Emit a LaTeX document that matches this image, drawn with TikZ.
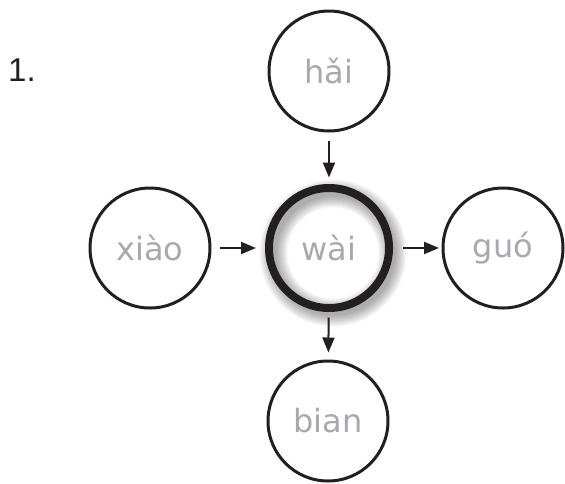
\documentclass[tikz,border=0pt]{standalone}
\usepackage{fontspec}
\setmainfont{DejaVu Sans}
\newfontfamily\numfont{Liberation Sans}
\usetikzlibrary{arrows.meta}
\definecolor{labelgray}{RGB}{167,169,172}
\definecolor{inkblack}{RGB}{35,31,32}
\begin{document}
\begin{tikzpicture}[x=1pt,y=-1pt,
  word/.style={circle, draw=inkblack, line width=3pt, minimum size=120pt, inner sep=0pt, outer sep=0pt, text=labelgray, font=\fontsize{32}{32}\selectfont},
  hub/.style={word, line width=8pt},
  link/.style={draw=inkblack, line width=2pt, -{Triangle[length=15pt,width=12pt]}}]
\useasboundingbox (0,0) rectangle (565,483);
% soft shadow of the central ring
\foreach \w in {1,...,12}{
  \pgfmathsetmacro{\lw}{4+2*\w}
  \draw[black, opacity=0.032, line width=\lw pt] (333,253) circle (59.5pt);
}
\node[word] (hai) at (329,71) {hǎi};
\node[word] (xiao) at (150,248) {xiào};
\node[hub] (wai) at (329,248) {wài};
\node[word] (guo) at (503,248) {guó};
\node[word] (bian) at (328,421) {bian};
\node[font=\numfont\fontsize{33}{33}\selectfont, text=inkblack, anchor=base west, inner sep=0pt] (num) at (8,81) {1.};
\draw[link, shorten <=9.5pt, shorten >=10.5pt] (hai) -- (wai);
\draw[link, shorten <=10pt, shorten >=13pt] (xiao) -- (wai);
\draw[link, shorten <=14pt, shorten >=4pt] (wai) -- (guo);
\draw[link, shorten <=9.5pt, shorten >=8.5pt] (wai) -- (bian);
\end{tikzpicture}
\end{document}
